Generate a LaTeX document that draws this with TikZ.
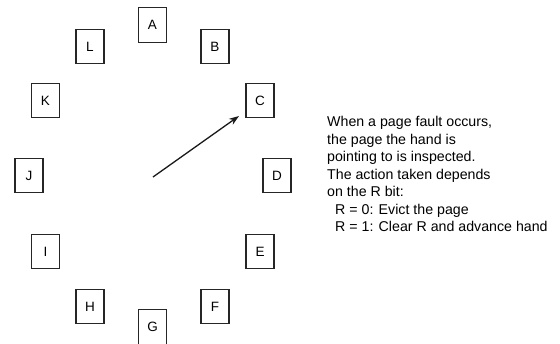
\documentclass[tikz,border=0pt]{standalone}
\usepackage{fontspec}
\setmainfont{Liberation Sans}
\usetikzlibrary{arrows.meta}
\begin{document}
\begin{tikzpicture}[x=1pt,y=-1pt,
  page/.style={draw=black!85, line width=1.3pt, minimum width=28pt, minimum height=34.5pt,
    inner sep=0pt, font=\fontsize{13.5}{16}\selectfont},
  note/.style={anchor=base west, inner sep=0pt, font=\fontsize{14.2}{17}\selectfont},
  hand/.style={line width=1.3pt, draw=black!90, -{Stealth[length=10pt,width=7pt]}}]
\useasboundingbox (0,0) rectangle (560,344);
% pages arranged round the clock face
\node[page] (A) at (152.5,25)  {A};
\node[page] (B) at (215,46.5)  {B};
\node[page] (C) at (260,100.5) {C};
\node[page] (D) at (277,175.5) {D};
\node[page] (E) at (260,251.5) {E};
\node[page] (F) at (215,306.5) {F};
\node[page] (G) at (152.5,327) {G};
\node[page] (H) at (90,306.5)  {H};
\node[page] (I) at (45.5,251.5){I};
\node[page] (J) at (29,175.5)  {J};
\node[page] (K) at (45.5,100.5){K};
\node[page] (L) at (90,46.5)   {L};
% the clock hand
\coordinate (hub) at (153,177);
\coordinate (tip) at (239,116);
\draw[hand] (hub) -- (tip);
% explanation
\node[note] (t1) at (327,127)   {When a page fault occurs,};
\node[note] (t2) at (327,144.5) {the page the hand is};
\node[note] (t3) at (327,162)   {pointing to is inspected.};
\node[note] (t4) at (327,179.5) {The action taken depends};
\node[note] (t5) at (327,197)   {on the R bit:};
\node[note] (t6) at (335,214.5) {R = 0: Evict the page};
\node[note] (t7) at (335,232)   {R = 1: Clear R and advance hand};
\end{tikzpicture}
\end{document}
